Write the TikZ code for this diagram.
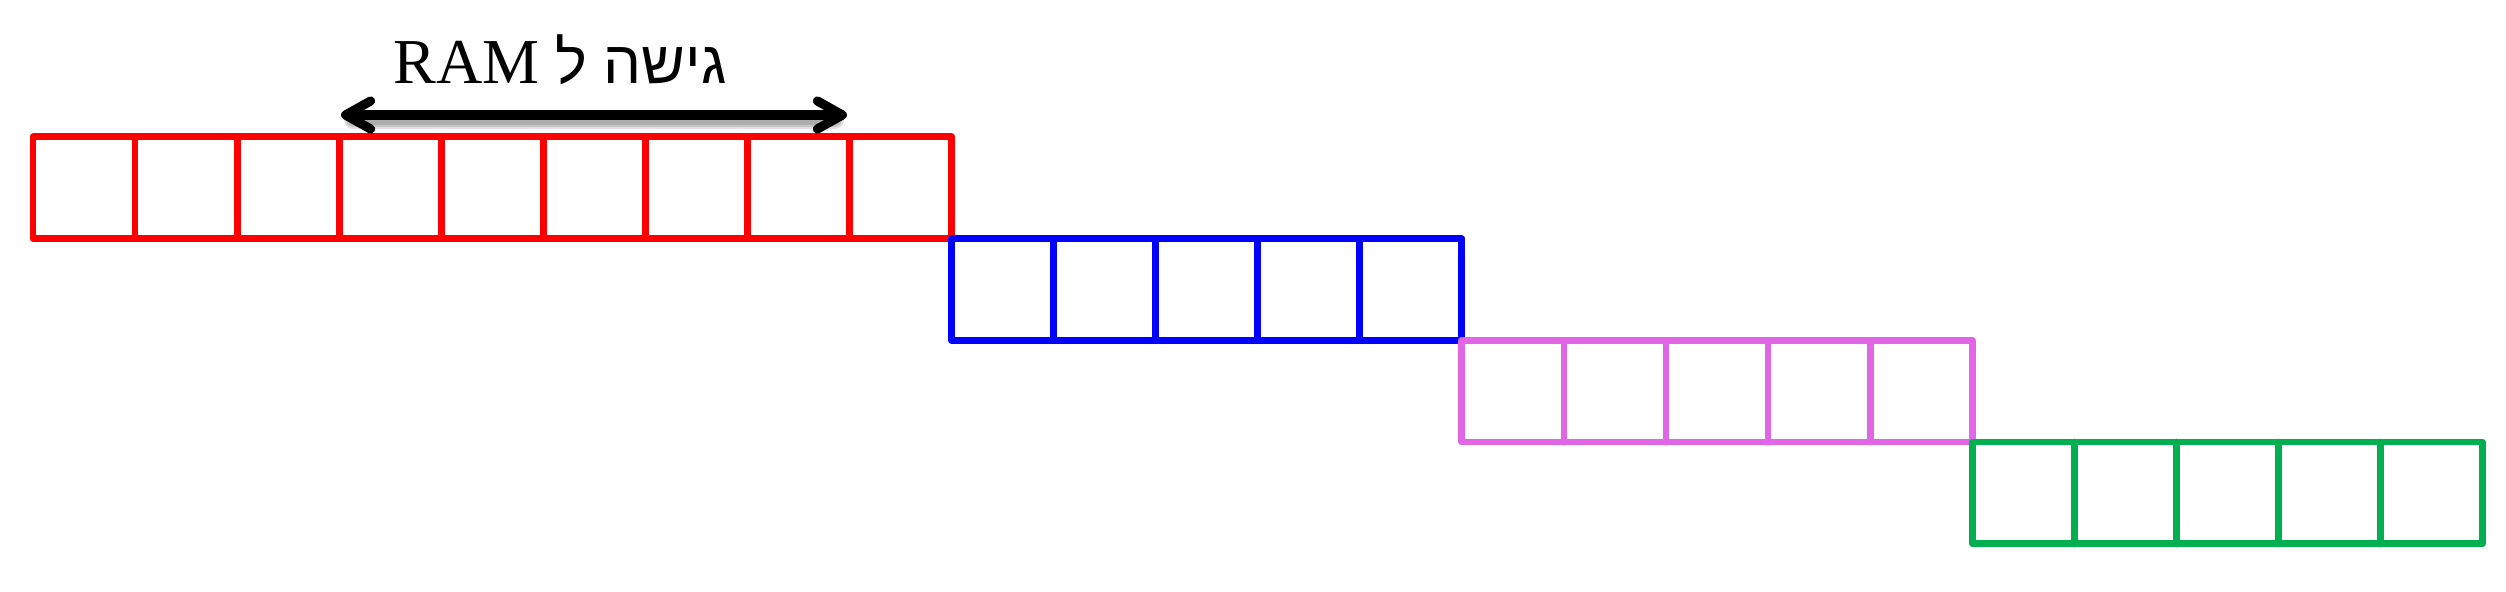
\documentclass[tikz,border=0pt]{standalone}
\usepackage{fontspec}
\setmainfont{Liberation Serif}
\newfontfamily\hebfont[Script=Hebrew]{Liberation Sans}
\TeXXeTstate=1
\usetikzlibrary{arrows.meta}
\definecolor{cRed}{RGB}{255,0,0}
\definecolor{cBlue}{RGB}{0,0,255}
\definecolor{cPink}{RGB}{224,102,230}
\definecolor{cGreen}{RGB}{0,176,80}
\begin{document}
\begin{tikzpicture}[x=0.5pt,y=-0.5pt,
  cellline/.style={line width=3.4pt, line join=round, line cap=round},
  arrowline/.style={line width=4.6pt, line cap=round,
    {Straight Barb[length=12.5pt,width=14pt,line cap=round,line join=round]}-{Straight Barb[length=12.5pt,width=14pt,line cap=round,line join=round]}},
  shadowline/.style={line cap=round, black, opacity=0.12},
  lbl/.style={inner sep=0pt, anchor=base}]
\useasboundingbox (0,0) rectangle (2506,592);
\def\cw{102.06}
\def\rh{101.8}
\def\xo{33}
\def\yo{136.7}
% blocks: start column, cell count, row, colour
\foreach \s/\n/\r/\c in {0/9/0/cRed, 9/5/1/cBlue, 14/5/2/cPink, 19/5/3/cGreen}{
  \draw[cellline, \c] ({\xo+\s*\cw},{\yo+\r*\rh}) rectangle ({\xo+(\s+\n)*\cw},{\yo+(\r+1)*\rh});
  \pgfmathtruncatemacro{\last}{\n-1}
  \foreach \i in {1,...,\last}{
    \draw[cellline, \c] ({\xo+(\s+\i)*\cw},{\yo+\r*\rh}) -- ({\xo+(\s+\i)*\cw},{\yo+(\r+1)*\rh});
  }
}
% arrow
\coordinate (aL) at (341,115);
\coordinate (aR) at (847,115);
\foreach \w in {9pt,7pt,5pt}{
  \draw[shadowline, line width=\w] ([xshift=6pt,yshift=-2.5pt]aL) -- ([xshift=-6pt,yshift=-2.5pt]aR);
}
\draw[arrowline] (aL) -- (aR);
% label
\node[lbl] (t) at (560,84) {\fontsize{32}{36}\selectfont\beginR{\hebfont\fontsize{30}{36}\selectfont גישה ל}\ \beginL RAM\endL\endR};
\end{tikzpicture}
\end{document}
